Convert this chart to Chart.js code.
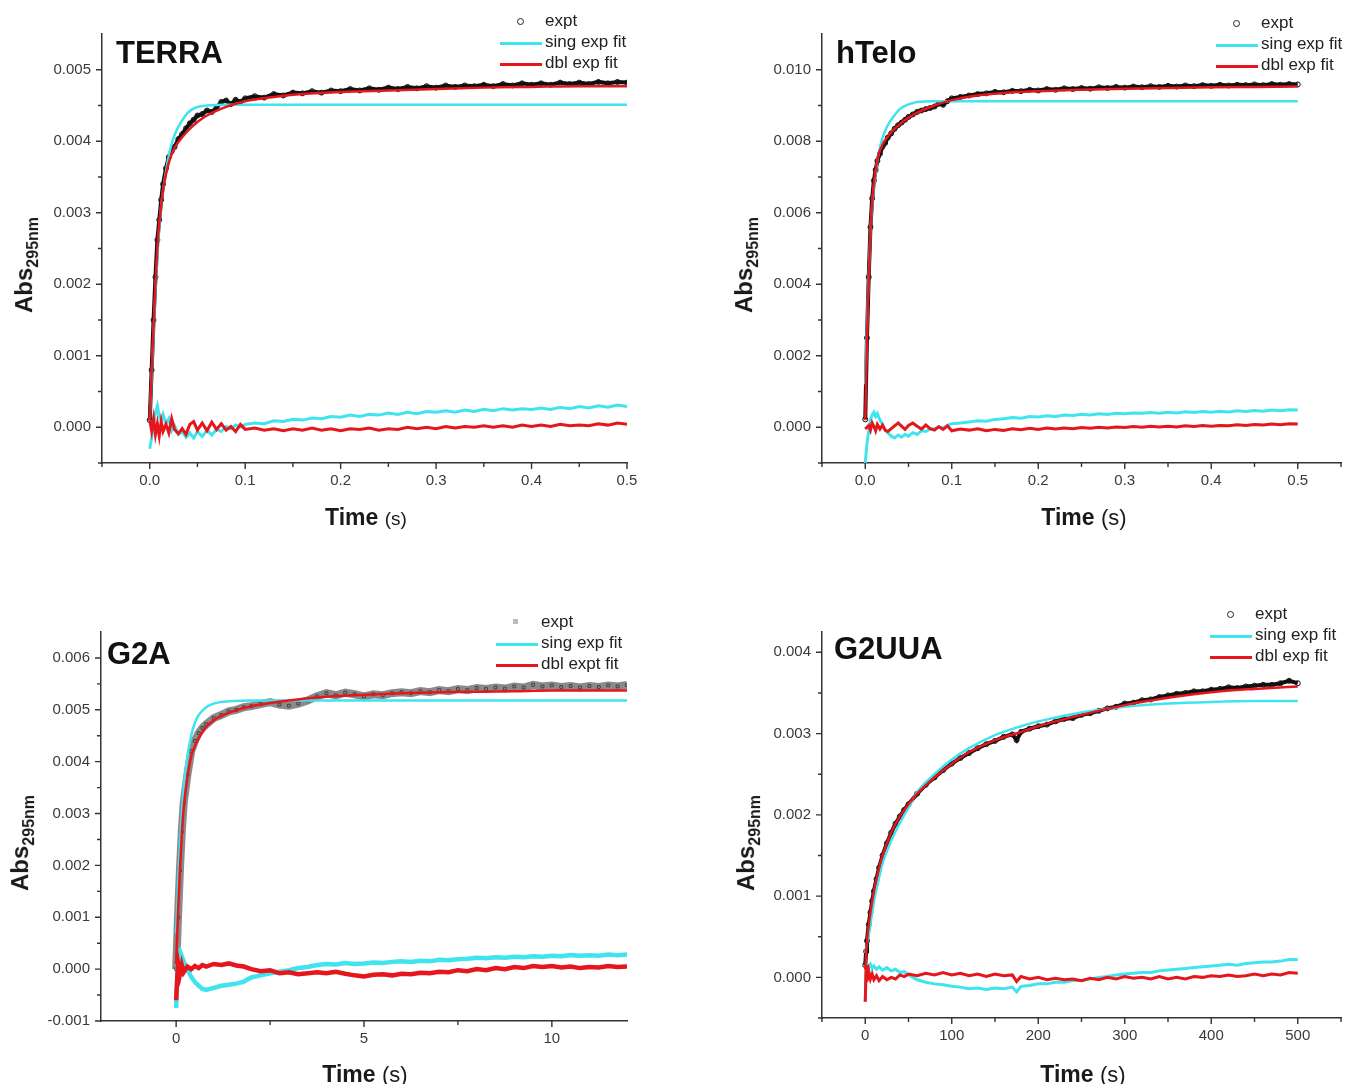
<!DOCTYPE html>
<html>
<head>
<meta charset="utf-8">
<title>Kinetic traces with exponential fits</title>
<script src="https://cdn.jsdelivr.net/npm/chart.js@4.4.1/dist/chart.umd.min.js"></script>
<style>
  body { margin: 0; background: #fff; font-family: "Liberation Sans", Arial, sans-serif; }
  #page { position: relative; width: 1346px; height: 1084px; overflow: hidden; }
  canvas { position: absolute; }
  .lbl { position: absolute; font-weight: bold; font-size: 31px; line-height: 1; color: #111; z-index: 2; }
  .leg { position: absolute; font-size: 17px; line-height: 1; color: #222; white-space: nowrap; z-index: 2; }
  .legline { position: absolute; height: 3px; width: 42px; z-index: 2; }
  .legcirc { position: absolute; width: 5px; height: 5px; border: 1.3px solid #222; border-radius: 50%; z-index: 2; }
  .legsq { position: absolute; width: 5px; height: 5px; background: #bbb; z-index: 2; }
  .ytitle { position: absolute; transform: translate(-50%, -50%) rotate(-90deg); font-weight: bold; font-size: 24px; white-space: nowrap; color: #1a1a1a; z-index: 2; }
  .ytitle sub { font-size: 16px; }
  .xtitle { position: absolute; transform: translate(-50%, -50%); font-weight: bold; font-size: 23px; white-space: nowrap; color: #1a1a1a; z-index: 2; }
  .xtitle span { font-weight: normal; font-size: 22px; }
  .xtitle.small span { font-size: 19px; }
</style>
</head>
<body>
<div id="page">
  <canvas id="c1" width="673" height="540" style="left:0;top:0"></canvas>
  <canvas id="c2" width="673" height="540" style="left:673px;top:0"></canvas>
  <canvas id="c3" width="673" height="524" style="left:0;top:560px"></canvas>
  <canvas id="c4" width="673" height="524" style="left:673px;top:560px"></canvas>

  <div class="lbl" style="left:116px;top:37px">TERRA</div>
  <div class="lbl" style="left:836px;top:37px">hTelo</div>
  <div class="lbl" style="left:107px;top:638px">G2A</div>
  <div class="lbl" style="left:834px;top:633px">G2UUA</div>

  <div class="ytitle" style="left:26px;top:265px">Abs<sub>295nm</sub></div>
  <div class="ytitle" style="left:746px;top:265px">Abs<sub>295nm</sub></div>
  <div class="ytitle" style="left:22px;top:843px">Abs<sub>295nm</sub></div>
  <div class="ytitle" style="left:748px;top:843px">Abs<sub>295nm</sub></div>

  <div class="xtitle small" style="left:366px;top:517px">Time <span>(s)</span></div>
  <div class="xtitle" style="left:1084px;top:517px">Time <span>(s)</span></div>
  <div class="xtitle" style="left:365px;top:1074px">Time <span>(s)</span></div>
  <div class="xtitle" style="left:1083px;top:1074px">Time <span>(s)</span></div>
</div>

<script>
// ---- time grids (s) ----
const timeFast = [0, 0.002, 0.004, 0.006, 0.008, 0.01, 0.012, 0.014, 0.017, 0.02,
  0.023, 0.026, 0.03, 0.034, 0.038, 0.042, 0.046, 0.05,
  0.055, 0.06, 0.065, 0.07, 0.075, 0.08, 0.085, 0.09, 0.095, 0.1,
  0.11, 0.12, 0.13, 0.14, 0.15, 0.16, 0.17, 0.18, 0.19, 0.2,
  0.21, 0.22, 0.23, 0.24, 0.25, 0.26, 0.27, 0.28, 0.29, 0.3,
  0.31, 0.32, 0.33, 0.34, 0.35, 0.36, 0.37, 0.38, 0.39, 0.4,
  0.41, 0.42, 0.43, 0.44, 0.45, 0.46, 0.47, 0.48, 0.49, 0.5];
const fitTimeFast = [0, 0.003, 0.006, 0.009, 0.012, 0.015, 0.02, 0.025, 0.03, 0.04, 0.05, 0.06,
  0.08, 0.1, 0.13, 0.16, 0.2, 0.25, 0.3, 0.35, 0.4, 0.45, 0.5];

const timeG2A = [0, 0.05, 0.1, 0.15, 0.2, 0.3, 0.4, 0.5, 0.6, 0.7, 0.8,
  1.0, 1.2, 1.4, 1.6, 1.8, 2.0,
  2.25, 2.5, 2.75, 3.0, 3.25, 3.5, 3.75, 4.0, 4.25, 4.5,
  4.75, 5.0, 5.25, 5.5, 5.75, 6.0, 6.25, 6.5, 6.75, 7.0,
  7.25, 7.5, 7.75, 8.0, 8.25, 8.5, 8.75, 9.0, 9.25, 9.5,
  9.75, 10.0, 10.25, 10.5, 10.75, 11.0, 11.25, 11.5, 11.75, 12.0];
const fitTimeG2A = [0, 0.05, 0.1, 0.15, 0.2, 0.3, 0.4, 0.5, 0.6, 0.8, 1.0, 1.2, 1.5, 2, 2.5, 3, 4, 5, 6, 7, 8, 9, 10, 11, 12];

const timeG2UUA = [0, 1, 2, 4, 6, 8, 10, 13, 16, 20,
  25, 30, 35, 40, 45, 50, 60, 70, 80, 90,
  100, 110, 120, 130, 140, 150, 160, 170, 175, 180,
  190, 200, 210, 220, 230, 240, 250, 260, 270, 280,
  290, 300, 310, 320, 330, 340, 350, 360, 370, 380,
  390, 400, 410, 420, 430, 440, 450, 460, 470, 480, 490, 500];
const fitTimeG2UUA = [0, 2, 5, 10, 15, 20, 30, 40, 50, 60, 80, 100, 120, 150, 180, 200, 250, 300, 350, 400, 450, 500];

// ---- TERRA ----
const terraExpt = [0.00010, 0.00080, 0.00150, 0.00210, 0.00262, 0.00290, 0.00318, 0.00340, 0.00362, 0.00378,
  0.00386, 0.00392, 0.00403, 0.00410, 0.00418, 0.00425, 0.00430, 0.00436,
  0.00438, 0.00443, 0.00441, 0.00447, 0.00455, 0.00457, 0.00452, 0.00458, 0.00455, 0.00460,
  0.00463, 0.00461, 0.00466, 0.00464, 0.00468, 0.00467, 0.00470, 0.00468, 0.00471, 0.00470,
  0.00473, 0.00471, 0.00474, 0.00472, 0.00475, 0.00473, 0.00476, 0.00474, 0.00477, 0.00475,
  0.00478, 0.00476, 0.00478, 0.00477, 0.00479, 0.00477, 0.00480, 0.00478, 0.00481, 0.00479,
  0.00481, 0.00479, 0.00482, 0.00480, 0.00482, 0.00480, 0.00483, 0.00481, 0.00483, 0.00482];
const terraSingFit = [0.0001, 0.0010, 0.0019, 0.0026, 0.0031, 0.0034, 0.0038, 0.00405, 0.0042, 0.0044, 0.00448, 0.0045,
  0.00451, 0.00451, 0.00451, 0.00451, 0.00451, 0.00451, 0.00451, 0.00451, 0.00451, 0.00451, 0.00451];
const terraDblFit = [0.0001, 0.0011, 0.0020, 0.0027, 0.0031, 0.0034, 0.0037, 0.00388, 0.00399, 0.00415, 0.00427, 0.00436,
  0.00448, 0.00456, 0.00462, 0.00466, 0.00469, 0.00471, 0.00473, 0.00475, 0.00476, 0.00477, 0.00477];
const terraSingResid = [-0.00030, -0.00015, 0.00005, 0.00020, 0.00030, 0.00015, 0.00010, 0.00018, 0.00005, 0.00012,
  -0.00005, 0.00002, -0.00010, -0.00006, -0.00014, -0.00008, -0.00015, -0.00006,
  -0.00013, -0.00004, -0.00011, -0.00003, -0.00006, 0.00001, -0.00002, 0.00003, 0.00000, 0.00004,
  0.00006, 0.00005, 0.00009, 0.00008, 0.00011, 0.00010, 0.00013, 0.00012, 0.00015, 0.00014,
  0.00017, 0.00015, 0.00018, 0.00017, 0.00020, 0.00018, 0.00021, 0.00019, 0.00022, 0.00021,
  0.00023, 0.00021, 0.00024, 0.00022, 0.00025, 0.00023, 0.00026, 0.00024, 0.00026, 0.00025,
  0.00027, 0.00025, 0.00028, 0.00026, 0.00029, 0.00027, 0.00030, 0.00028, 0.00031, 0.00029];
const terraDblResid = [0.00010, -0.00005, 0.00012, -0.00010, 0.00005, -0.00012, 0.00008, -0.00006, 0.00004, -0.00008,
  0.00012, -0.00003, -0.00009, -0.00002, -0.00010, 0.00004, 0.00008, -0.00004,
  0.00006, -0.00005, 0.00007, -0.00003, 0.00005, -0.00004, 0.00001, -0.00006, 0.00004, -0.00003,
  -0.00001, -0.00004, -0.00002, -0.00005, -0.00002, -0.00004, -0.00001, -0.00004, -0.00002, -0.00005,
  -0.00002, -0.00003, -0.00001, -0.00004, -0.00002, -0.00003, 0.00000, -0.00002, 0.00000, -0.00002,
  0.00001, -0.00001, 0.00001, 0.00000, 0.00002, 0.00000, 0.00002, 0.00000, 0.00003, 0.00001,
  0.00003, 0.00001, 0.00004, 0.00002, 0.00003, 0.00002, 0.00005, 0.00003, 0.00006, 0.00004];

// ---- hTelo ----
const htExpt = [0.00022, 0.00250, 0.00420, 0.00560, 0.00640, 0.00690, 0.00720, 0.00745, 0.00765, 0.00785,
  0.00795, 0.00810, 0.00822, 0.00835, 0.00845, 0.00852, 0.00860, 0.00868,
  0.00875, 0.00882, 0.00886, 0.00890, 0.00893, 0.00897, 0.00905, 0.00902, 0.00912, 0.00920,
  0.00924, 0.00928, 0.00932, 0.00934, 0.00938, 0.00937, 0.00941, 0.00940, 0.00944, 0.00942,
  0.00946, 0.00944, 0.00948, 0.00946, 0.00949, 0.00947, 0.00951, 0.00949, 0.00952, 0.00950,
  0.00953, 0.00951, 0.00954, 0.00952, 0.00955, 0.00953, 0.00956, 0.00954, 0.00957, 0.00955,
  0.00958, 0.00956, 0.00958, 0.00957, 0.00959, 0.00957, 0.00960, 0.00958, 0.00960, 0.00959];
const htSingFit = [0.0012, 0.0036, 0.0055, 0.0065, 0.0071, 0.0076, 0.0081, 0.0084, 0.0086, 0.0089, 0.00903, 0.0091,
  0.00912, 0.00912, 0.00912, 0.00912, 0.00912, 0.00912, 0.00912, 0.00912, 0.00912, 0.00912, 0.00912];
const htDblFit = [0.0002, 0.0034, 0.0055, 0.0066, 0.0072, 0.0076, 0.0079, 0.0081, 0.00825, 0.00848, 0.00866, 0.0088,
  0.0090, 0.00915, 0.00928, 0.00935, 0.0094, 0.00944, 0.00947, 0.00949, 0.00951, 0.00952, 0.00953];
const htSingResid = [-0.00100, -0.00045, -0.00010, 0.00020, 0.00035, 0.00042, 0.00030, 0.00038, 0.00020, 0.00008,
  -0.00008, -0.00015, -0.00025, -0.00030, -0.00022, -0.00028, -0.00020, -0.00025,
  -0.00015, -0.00020, -0.00010, -0.00012, -0.00005, -0.00004, 0.00000, -0.00002, 0.00005, 0.00010,
  0.00012, 0.00015, 0.00018, 0.00017, 0.00022, 0.00024, 0.00027, 0.00025, 0.00030, 0.00029,
  0.00032, 0.00030, 0.00034, 0.00033, 0.00036, 0.00034, 0.00038, 0.00036, 0.00039, 0.00038,
  0.00040, 0.00039, 0.00041, 0.00039, 0.00042, 0.00040, 0.00043, 0.00041, 0.00044, 0.00042,
  0.00045, 0.00043, 0.00046, 0.00044, 0.00047, 0.00045, 0.00048, 0.00046, 0.00049, 0.00048];
const htDblResid = [-0.00005, 0.00000, 0.00005, -0.00008, 0.00012, 0.00002, -0.00010, 0.00008, -0.00005, 0.00006,
  -0.00008, -0.00012, -0.00004, 0.00004, 0.00012, 0.00003, -0.00006, 0.00005,
  0.00012, 0.00003, -0.00005, 0.00006, -0.00004, -0.00008, 0.00002, -0.00006, 0.00004, -0.00010,
  -0.00005, -0.00008, -0.00004, -0.00010, -0.00006, -0.00009, -0.00004, -0.00007, -0.00003, -0.00006,
  -0.00002, -0.00005, -0.00002, -0.00004, -0.00001, -0.00003, 0.00000, -0.00002, 0.00001, -0.00001,
  0.00002, 0.00000, 0.00003, 0.00001, 0.00003, 0.00001, 0.00004, 0.00002, 0.00005, 0.00003,
  0.00005, 0.00004, 0.00007, 0.00005, 0.00008, 0.00006, 0.00009, 0.00007, 0.00010, 0.00009];

// ---- G2A ----
const g2aExpt = [0.00000, 0.00100, 0.00190, 0.00265, 0.00320, 0.00375, 0.00420, 0.00440, 0.00455, 0.00465, 0.00472,
  0.00484, 0.00490, 0.00497, 0.00500, 0.00505, 0.00507,
  0.00511, 0.00515, 0.00510, 0.00508, 0.00512, 0.00518, 0.00526, 0.00532, 0.00528, 0.00533,
  0.00530, 0.00526, 0.00530, 0.00528, 0.00532, 0.00534, 0.00532, 0.00536, 0.00534, 0.00538,
  0.00536, 0.00540, 0.00538, 0.00542, 0.00540, 0.00543, 0.00541, 0.00545, 0.00543, 0.00548,
  0.00545, 0.00547, 0.00544, 0.00546, 0.00543, 0.00546, 0.00544, 0.00547, 0.00545, 0.00548];
const g2aSingFit = [0.0007, 0.0016, 0.0024, 0.0030, 0.0035, 0.0041, 0.0045, 0.00475, 0.0049, 0.00505, 0.00512, 0.00515, 0.00517, 0.00518,
  0.00518, 0.00518, 0.00518, 0.00518, 0.00518, 0.00518, 0.00518, 0.00518, 0.00518, 0.00518, 0.00518];
const g2aDblFit = [0.0001, 0.0011, 0.0019, 0.0026, 0.0031, 0.0037, 0.0041, 0.0043, 0.00446, 0.00467, 0.0048, 0.00488, 0.00497, 0.00507,
  0.00513, 0.00518, 0.00525, 0.00529, 0.00532, 0.00534, 0.00535, 0.00536, 0.00537, 0.00537, 0.00537];
const g2aSingResid = [-0.00075, 0.00030, 0.00035, 0.00025, 0.00015, 0.00000, -0.00015, -0.00025, -0.00032, -0.00038, -0.00040,
  -0.00036, -0.00032, -0.00030, -0.00028, -0.00024, -0.00016,
  -0.00012, -0.00008, -0.00005, -0.00002, 0.00002, 0.00004, 0.00008, 0.00010, 0.00009, 0.00012,
  0.00010, 0.00011, 0.00013, 0.00012, 0.00014, 0.00015, 0.00014, 0.00016, 0.00015, 0.00018,
  0.00017, 0.00019, 0.00020, 0.00022, 0.00021, 0.00023, 0.00022, 0.00024, 0.00023, 0.00025,
  0.00024, 0.00026, 0.00025, 0.00027, 0.00026, 0.00027, 0.00026, 0.00028, 0.00027, 0.00028];
const g2aDblResid = [-0.00060, 0.00012, -0.00010, 0.00008, -0.00006, 0.00005, 0.00000, 0.00006, 0.00002, 0.00008, 0.00005,
  0.00010, 0.00008, 0.00011, 0.00007, 0.00005, 0.00000,
  -0.00004, -0.00002, -0.00008, -0.00006, -0.00010, -0.00008, -0.00006, -0.00008, -0.00005, -0.00009,
  -0.00012, -0.00014, -0.00011, -0.00010, -0.00012, -0.00009, -0.00010, -0.00007, -0.00008, -0.00005,
  -0.00006, -0.00002, -0.00004, 0.00000, -0.00002, 0.00002, 0.00000, 0.00004, 0.00002, 0.00006,
  0.00004, 0.00006, 0.00003, 0.00005, 0.00002, 0.00004, 0.00003, 0.00006, 0.00004, 0.00005];

// ---- G2UUA ----
const g2uuaExpt = [0.00015, 0.00032, 0.00045, 0.00065, 0.00080, 0.00094, 0.00106, 0.00121, 0.00135, 0.00150,
  0.00165, 0.00178, 0.00189, 0.00198, 0.00206, 0.00213, 0.00226, 0.00237, 0.00246, 0.00255,
  0.00263, 0.00270, 0.00276, 0.00282, 0.00287, 0.00291, 0.00296, 0.00299, 0.00292, 0.00302,
  0.00306, 0.00309, 0.00311, 0.00315, 0.00318, 0.00319, 0.00323, 0.00325, 0.00328, 0.00331,
  0.00333, 0.00337, 0.00338, 0.00341, 0.00342, 0.00345, 0.00347, 0.00349, 0.00350, 0.00352,
  0.00352, 0.00354, 0.00355, 0.00357, 0.00356, 0.00358, 0.00359, 0.00360, 0.00360, 0.00362, 0.00365, 0.00362];
const g2uuaSingFit = [0.0003, 0.00042, 0.00058, 0.00093, 0.00118, 0.0014, 0.00168, 0.0019, 0.00209, 0.00228, 0.0025,
  0.00268, 0.00282, 0.00298, 0.00309, 0.00315, 0.00326, 0.00333, 0.00337, 0.00339, 0.0034, 0.0034];
const g2uuaDblFit = [0.0001, 0.00045, 0.00072, 0.00106, 0.0013, 0.0015, 0.00178, 0.00198, 0.00213, 0.00226, 0.00246,
  0.00263, 0.00277, 0.00292, 0.00302, 0.00309, 0.00323, 0.00335, 0.00344, 0.00351, 0.00355, 0.00358];
const g2uuaSingResid = [-0.00030, 0.00005, 0.00015, 0.00012, 0.00016, 0.00011, 0.00014, 0.00010, 0.00013, 0.00009,
  0.00012, 0.00008, 0.00010, 0.00006, 0.00007, 0.00003, -0.00003, -0.00006, -0.00008, -0.00009,
  -0.00011, -0.00012, -0.00014, -0.00013, -0.00015, -0.00013, -0.00014, -0.00012, -0.00018, -0.00011,
  -0.00010, -0.00008, -0.00008, -0.00006, -0.00006, -0.00004, -0.00004, -0.00002, 0.00000, 0.00001,
  0.00003, 0.00004, 0.00005, 0.00006, 0.00006, 0.00008, 0.00009, 0.00010, 0.00011, 0.00012,
  0.00013, 0.00014, 0.00015, 0.00016, 0.00015, 0.00017, 0.00018, 0.00019, 0.00019, 0.00020, 0.00022, 0.00022];
const g2uuaDblResid = [-0.00030, 0.00015, -0.00005, 0.00008, -0.00002, 0.00004, -0.00003, 0.00002, -0.00004, 0.00001,
  -0.00003, 0.00000, -0.00002, 0.00003, 0.00001, 0.00004, 0.00002, 0.00005, 0.00003, 0.00006,
  0.00003, 0.00005, 0.00002, 0.00004, 0.00001, 0.00004, 0.00002, 0.00003, -0.00005, 0.00001,
  -0.00002, 0.00000, -0.00003, -0.00001, -0.00003, -0.00002, -0.00004, -0.00001, -0.00003, 0.00000,
  -0.00002, 0.00001, -0.00001, 0.00000, -0.00002, 0.00001, -0.00002, 0.00000, -0.00002, 0.00001,
  0.00000, 0.00002, 0.00001, 0.00003, 0.00001, 0.00002, 0.00004, 0.00002, 0.00004, 0.00003, 0.00006, 0.00005];

// ---- tick values ----
const xMajorFast = [0, 0.1, 0.2, 0.3, 0.4, 0.5];
const xMinorFast = [-0.05, 0.05, 0.15, 0.25, 0.35, 0.45, 0.55];
const xMajorG2A = [0, 5, 10];
const xMinorG2A = [2.5, 7.5];
const xMajorG2UUA = [0, 100, 200, 300, 400, 500];
const xMinorG2UUA = [-50, 50, 150, 250, 350, 450, 550];
const yMajorTerra = [0, 0.001, 0.002, 0.003, 0.004, 0.005];
const yMinorTerra = [-0.0005, 0.0005, 0.0015, 0.0025, 0.0035, 0.0045];
const yMajorHt = [0, 0.002, 0.004, 0.006, 0.008, 0.010];
const yMinorHt = [-0.001, 0.001, 0.003, 0.005, 0.007, 0.009];
const yMajorG2A = [-0.001, 0, 0.001, 0.002, 0.003, 0.004, 0.005, 0.006];
const yMinorG2A = [-0.0005, 0.0005, 0.0015, 0.0025, 0.0035, 0.0045, 0.0055];
const yMajorG2UUA = [0, 0.001, 0.002, 0.003, 0.004];
const yMinorG2UUA = [-0.0005, 0.0005, 0.0015, 0.0025, 0.0035];

const CYAN = '#3fe4ee';
const RED = '#e5161c';
const FONT = '"Liberation Sans", Arial, sans-serif';

function pts(xs, ys) {
  return xs.map((x, i) => ({ x: x, y: ys[i] }));
}

// Origin-style outward tick marks, placed with the chart's own scales
const originTicks = {
  id: 'originTicks',
  afterDraw(chart, args, opts) {
    const { ctx, chartArea: area, scales } = chart;
    ctx.save();
    ctx.strokeStyle = '#333';
    ctx.lineWidth = 1.4;
    ctx.beginPath();
    const xTick = (v, len) => {
      const p = scales.x.getPixelForValue(v);
      ctx.moveTo(p, area.bottom); ctx.lineTo(p, area.bottom + len);
    };
    const yTick = (v, len) => {
      const p = scales.y.getPixelForValue(v);
      ctx.moveTo(area.left, p); ctx.lineTo(area.left - len, p);
    };
    opts.xMajor.forEach(v => xTick(v, 6));
    opts.xMinor.forEach(v => xTick(v, 4));
    opts.yMajor.forEach(v => yTick(v, 6));
    opts.yMinor.forEach(v => yTick(v, 4));
    ctx.stroke();
    ctx.restore();
  }
};

function buildPanel(id, p) {
  const canvas = document.getElementById(id);
  const W = canvas.width, H = canvas.height;
  const tickFont = { family: FONT, size: 15 };
  return new Chart(canvas, {
    type: 'scatter',
    data: {
      datasets: [
        { label: 'expt', data: pts(p.time, p.expt), order: 5, showLine: true,
          borderColor: p.exptLine, borderWidth: p.exptWidth,
          pointStyle: p.pointStyle, pointRadius: p.pointRadius, pointBorderWidth: 1,
          pointBorderColor: p.pointColor, pointBackgroundColor: 'rgba(255,255,255,0)' },
        { label: 'sing resid', data: pts(p.time, p.singResid), order: 4, showLine: true,
          borderColor: CYAN, borderWidth: p.residWidth, pointRadius: 0 },
        { label: 'dbl resid', data: pts(p.time, p.dblResid), order: 3, showLine: true,
          borderColor: RED, borderWidth: p.residWidth, pointRadius: 0 },
        { label: 'sing exp fit', data: pts(p.fitTime, p.singFit), order: 2, showLine: true,
          borderColor: CYAN, borderWidth: 2.5, pointRadius: 0, cubicInterpolationMode: 'monotone' },
        { label: 'dbl exp fit', data: pts(p.fitTime, p.dblFit), order: 1, showLine: true,
          borderColor: RED, borderWidth: 2.5, pointRadius: 0, cubicInterpolationMode: 'monotone' }
      ]
    },
    options: {
      responsive: false,
      animation: false,
      events: [],
      layout: { padding: { left: 0, top: p.area.top, right: W - p.area.right, bottom: 0 } },
      plugins: {
        legend: { display: false },
        tooltip: { enabled: false },
        originTicks: { xMajor: p.xMajor, xMinor: p.xMinor, yMajor: p.yMajor, yMinor: p.yMinor }
      },
      scales: {
        x: {
          type: 'linear', min: p.xMin, max: p.xMax,
          grid: { display: false, drawTicks: false },
          border: { color: '#333', width: 1.5 },
          ticks: { padding: 9, color: '#3a3a3a', font: tickFont, autoSkip: false, maxRotation: 0, callback: p.xFmt },
          afterBuildTicks: s => { s.ticks = p.xMajor.map(v => ({ value: v })); },
          afterFit: s => { s.height = H - p.area.bottom; }
        },
        y: {
          type: 'linear', min: p.yMin, max: p.yMax,
          grid: { display: false, drawTicks: false },
          border: { color: '#333', width: 1.5 },
          ticks: { padding: 11, color: '#3a3a3a', font: tickFont, autoSkip: false, callback: v => v.toFixed(3) },
          afterBuildTicks: s => { s.ticks = p.yMajor.map(v => ({ value: v })); },
          afterFit: s => { s.width = p.area.left; }
        }
      }
    },
    plugins: [originTicks]
  });
}

function addLegend(textX, firstY, labels, markClass) {
  const page = document.getElementById('page');
  labels.forEach((text, i) => {
    const y = firstY + i * 21;
    const row = document.createElement('div');
    row.className = 'leg';
    row.style.left = textX + 'px';
    row.style.top = (y - 10) + 'px';
    row.textContent = text;
    page.appendChild(row);

    const sym = document.createElement('div');
    if (i === 0) {
      sym.className = markClass;
      sym.style.left = (textX - 28) + 'px';
      sym.style.top = (y - 4) + 'px';
    } else {
      sym.className = 'legline';
      sym.style.background = i === 1 ? CYAN : RED;
      sym.style.left = (textX - 45) + 'px';
      sym.style.top = (y - 1) + 'px';
    }
    page.appendChild(sym);
  });
}

const fmt1 = v => v.toFixed(1);
const fmt0 = v => String(v);

buildPanel('c1', {
  time: timeFast, expt: terraExpt, singResid: terraSingResid, dblResid: terraDblResid,
  fitTime: fitTimeFast, singFit: terraSingFit, dblFit: terraDblFit,
  area: { left: 102, top: 34, right: 627, bottom: 463 },
  xMin: -0.05, xMax: 0.5, yMin: -0.0005, yMax: 0.0055,
  xMajor: xMajorFast, xMinor: xMinorFast.slice(0, 6), yMajor: yMajorTerra, yMinor: yMinorTerra, xFmt: fmt1,
  exptLine: '#111', exptWidth: 4, pointStyle: 'circle', pointRadius: 2.5, pointColor: '#111', residWidth: 3
});
buildPanel('c2', {
  time: timeFast, expt: htExpt, singResid: htSingResid, dblResid: htDblResid,
  fitTime: fitTimeFast, singFit: htSingFit, dblFit: htDblFit,
  area: { left: 149, top: 34, right: 673, bottom: 463 },
  xMin: -0.05, xMax: 0.55, yMin: -0.001, yMax: 0.011,
  xMajor: xMajorFast, xMinor: xMinorFast, yMajor: yMajorHt, yMinor: yMinorHt, xFmt: fmt1,
  exptLine: '#111', exptWidth: 4, pointStyle: 'circle', pointRadius: 2.5, pointColor: '#111', residWidth: 3
});
buildPanel('c3', {
  time: timeG2A, expt: g2aExpt, singResid: g2aSingResid, dblResid: g2aDblResid,
  fitTime: fitTimeG2A, singFit: g2aSingFit, dblFit: g2aDblFit,
  area: { left: 101, top: 72, right: 627, bottom: 461 },
  xMin: -2, xMax: 12, yMin: -0.001, yMax: 0.0065,
  xMajor: xMajorG2A, xMinor: xMinorG2A, yMajor: yMajorG2A, yMinor: yMinorG2A, xFmt: fmt0,
  exptLine: 'rgba(60,60,60,0.6)', exptWidth: 8, pointStyle: 'rect', pointRadius: 2, pointColor: '#444', residWidth: 4.5
});
buildPanel('c4', {
  time: timeG2UUA, expt: g2uuaExpt, singResid: g2uuaSingResid, dblResid: g2uuaDblResid,
  fitTime: fitTimeG2UUA, singFit: g2uuaSingFit, dblFit: g2uuaDblFit,
  area: { left: 149, top: 72, right: 673, bottom: 458 },
  xMin: -50, xMax: 550, yMin: -0.0005, yMax: 0.00425,
  xMajor: xMajorG2UUA, xMinor: xMinorG2UUA, yMajor: yMajorG2UUA, yMinor: yMinorG2UUA, xFmt: fmt0,
  exptLine: '#111', exptWidth: 4, pointStyle: 'circle', pointRadius: 2.5, pointColor: '#111', residWidth: 3
});

addLegend(545, 22, ['expt', 'sing exp fit', 'dbl exp fit'], 'legcirc');
addLegend(1261, 24, ['expt', 'sing exp fit', 'dbl exp fit'], 'legcirc');
addLegend(541, 623, ['expt', 'sing exp fit', 'dbl expt fit'], 'legsq');
addLegend(1255, 615, ['expt', 'sing exp fit', 'dbl exp fit'], 'legcirc');
</script>
</body>
</html>
